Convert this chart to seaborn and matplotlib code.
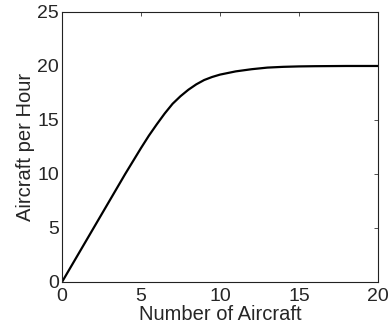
import pandas as pd
import matplotlib
matplotlib.use("Agg")
import matplotlib.pyplot as plt
import seaborn as sns

sns.set_style("white")
plt.rcParams["font.family"] = ["Liberation Sans", "DejaVu Sans"]

# values
num_aircraft = [0, 4, 4.5, 5, 5.5, 6, 6.5, 7, 7.5, 8, 8.5, 9, 9.5, 10,
                11, 12, 13, 14, 15, 16, 18, 20]
aircraft_per_hour = [0, 10.0, 11.2, 12.4, 13.55, 14.6, 15.6, 16.5, 17.2, 17.8,
                     18.3, 18.7, 18.98, 19.2, 19.5, 19.7, 19.85, 19.92, 19.96,
                     19.98, 20.0, 20.0]
x_ticks = [0, 5, 10, 15, 20]
y_ticks = [0, 5, 10, 15, 20, 25]

df = pd.DataFrame({"n": num_aircraft, "rate": aircraft_per_hour})

fig = plt.figure(figsize=(3.91, 3.29), dpi=100)
ax = fig.add_axes([0.1586, 0.1429, 0.808, 0.8207])
sns.lineplot(data=df, x="n", y="rate", ax=ax, color="black", linewidth=1.6)

ax.set_xlim(0, 20)
ax.set_ylim(0, 25)
ax.set_xticks(x_ticks)
ax.set_yticks(y_ticks)
ax.tick_params(direction="in", length=3, width=0.6, labelsize=14,
               top=True, right=True, color="#333333")
ax.tick_params(axis="x", pad=4)
ax.tick_params(axis="y", pad=2)
ax.set_xlabel("Number of Aircraft", fontsize=14.5, labelpad=0.5)
ax.set_ylabel("Aircraft per Hour", fontsize=14.5, labelpad=2)
for s in ax.spines.values():
    s.set_visible(True)
    s.set_color("#222222")
    s.set_linewidth(0.8)

fig.savefig("out.png", dpi=100)
